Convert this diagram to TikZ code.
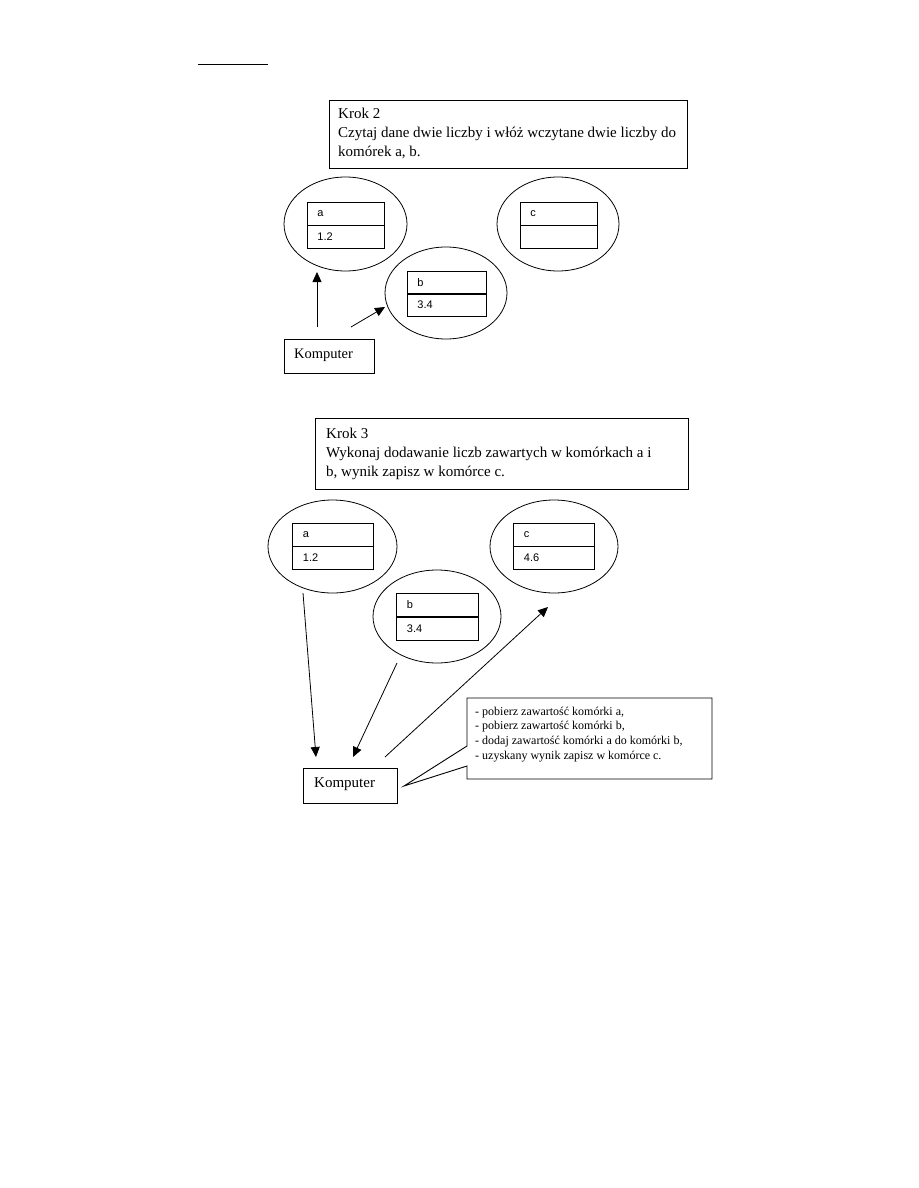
\documentclass[tikz,border=0pt]{standalone}
\usepackage{fontspec}
\setmainfont{Liberation Serif}
\newfontfamily\cellfont{Liberation Sans}
\usetikzlibrary{shapes.geometric,arrows.meta}
\begin{document}
\begin{tikzpicture}[x=1pt,y=-1pt,
  oval/.style={ellipse,draw=black,line width=0.8pt,inner sep=0pt},
  cellbox/.style={draw=black,line width=0.8pt,minimum width=77pt,minimum height=23pt,
     text width=57pt,inner xsep=10pt,inner ysep=0pt,align=left,font=\cellfont\fontsize{11}{12}\selectfont,anchor=north west},
  frame/.style={draw=black,line width=0.9pt,inner sep=0pt,anchor=north west},
  bigtext/.style={inner sep=0pt,anchor=north west,align=left,font=\fontsize{15}{19}\selectfont},
  arr/.style={line width=0.8pt,-{Triangle[length=10pt,width=9pt]}}]
\useasboundingbox (0,0) rectangle (918,1188);
% top rule
\coordinate (r1) at (198,64);
\coordinate (r2) at (268,64);
\draw[line width=0.9pt] (r1) -- (r2);

% ---------- Krok 2 ----------
\node[frame,minimum width=358pt,minimum height=68pt] (k2box) at (329,100) {};
\node[bigtext] (k2text) at (338,108) {Krok 2\\Czytaj dane dwie liczby i włóż wczytane dwie liczby do\\komórek a, b.};

\node[oval,minimum width=123pt,minimum height=94pt] (ea2) at (345.5,224) {};
\node[oval,minimum width=122pt,minimum height=94pt] (ec2) at (558,224) {};
\node[oval,minimum width=122pt,minimum height=92pt] (eb2) at (446,293) {};

\node[cellbox] (a2n) at (307,202) {a};
\node[cellbox] (a2v) at (307,225) {1.2};
\node[cellbox] (c2n) at (520,202) {c};
\node[cellbox] (c2v) at (520,225) {};
\node[cellbox,minimum width=79pt,text width=59pt] (b2n) at (407,271) {b};
\node[cellbox,minimum width=79pt,text width=59pt] (b2v) at (407,293) {3.4};

\node[draw=black,line width=0.9pt,anchor=north west,minimum width=90pt,minimum height=34pt,inner sep=0pt] (k2comp) at (284,339) {};
\node[inner sep=0pt,anchor=west,font=\fontsize{14.5}{17}\selectfont] (k2ctext) at (294,355) {Komputer};

\coordinate (s21) at (317,327);
\coordinate (t21) at (317,272);
\coordinate (s22) at (351,327);
\coordinate (t22) at (385,307);
\draw[arr] (s21) -- (t21);
\draw[arr] (s22) -- (t22);

% ---------- Krok 3 ----------
\node[frame,minimum width=373pt,minimum height=71pt] (k3box) at (315,418) {};
\node[bigtext] (k3text) at (326,427.5) {Krok 3\\Wykonaj dodawanie liczb zawartych w komórkach a i\\b, wynik zapisz w komórce c.};

\node[oval,minimum width=129pt,minimum height=93pt] (ea3) at (332.5,546.5) {};
\node[oval,minimum width=128pt,minimum height=93pt] (eb3) at (437,616.5) {};
\node[oval,minimum width=128pt,minimum height=93pt] (ec3) at (554,546.5) {};

\node[cellbox,minimum width=81pt,text width=60pt] (a3n) at (292,523) {a};
\node[cellbox,minimum width=81pt,text width=60pt] (a3v) at (292,546) {1.2};
\node[cellbox,minimum width=82pt,text width=61pt] (b3n) at (396,593) {b};
\node[cellbox,minimum width=82pt,text width=61pt] (b3v) at (396,617) {3.4};
\node[cellbox,minimum width=81pt,text width=60pt] (c3n) at (513,523) {c};
\node[cellbox,minimum width=81pt,text width=60pt] (c3v) at (513,546) {4.6};

\node[draw=black,line width=0.9pt,anchor=north west,minimum width=94pt,minimum height=35pt,inner sep=0pt] (k3comp) at (303,768) {};
\node[inner sep=0pt,anchor=west,font=\fontsize{15}{17}\selectfont] (k3ctext) at (314,784.5) {Komputer};

\coordinate (s31) at (303,593);
\coordinate (t31) at (316,757);
\coordinate (s32) at (397,663);
\coordinate (t32) at (353,757);
\coordinate (s33) at (385,757);
\coordinate (t33) at (548,607);
\draw[arr] (s31) -- (t31);
\draw[arr] (s32) -- (t32);
\draw[arr] (s33) -- (t33);

% callout
\coordinate (cq1) at (467,698);
\coordinate (cq2) at (712,698);
\coordinate (cq3) at (712,779);
\coordinate (cq4) at (467,779);
\coordinate (cq5) at (467,766);
\coordinate (ctip) at (404,786);
\coordinate (cq6) at (467,746);
\draw[line width=0.9pt,line join=miter] (cq1) -- (cq2) -- (cq3) -- (cq4) -- (cq5) -- (ctip) -- (cq6) -- cycle;
\node[inner sep=0pt,anchor=north west,align=left,font=\fontsize{12}{14.7}\selectfont] (ctext) at (475,706.5) {- pobierz zawartość komórki a,\\- pobierz zawartość komórki b,\\- dodaj zawartość komórki a do komórki b,\\- uzyskany wynik zapisz w komórce c.};
\end{tikzpicture}
\end{document}
